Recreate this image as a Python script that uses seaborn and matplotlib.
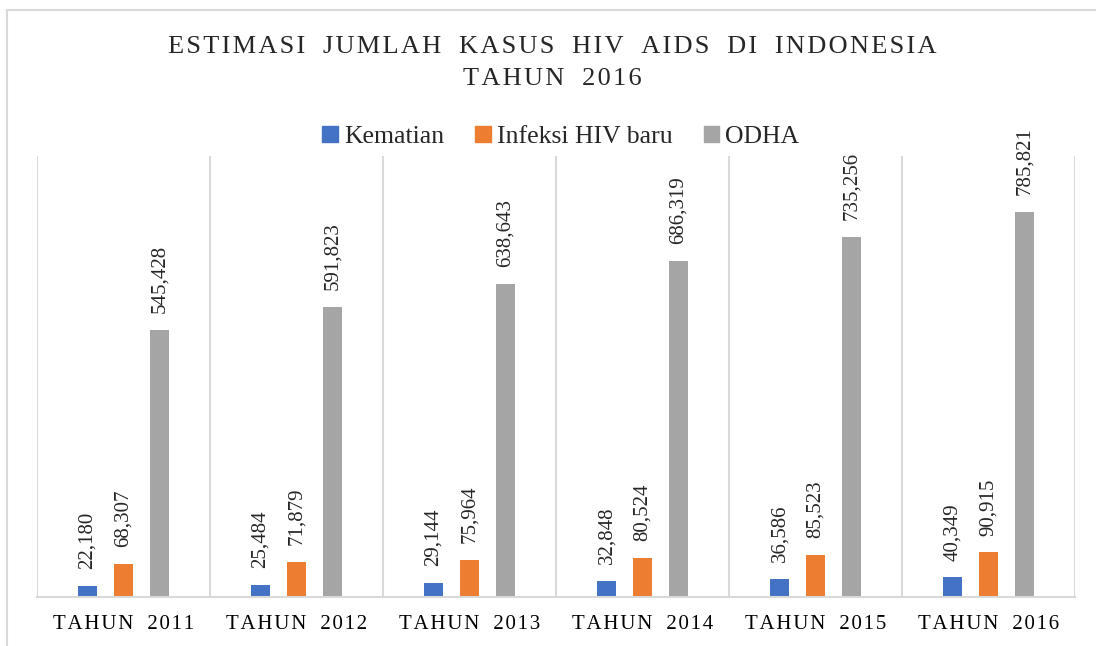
import numpy as np
import pandas as pd
import matplotlib
matplotlib.use("Agg")
import matplotlib.pyplot as plt
from matplotlib.lines import Line2D
import seaborn as sns

# ── data ────────────────────────────────────────────────
years      = ["2011", "2012", "2013", "2014", "2015", "2016"]
kematian   = [22180, 25484, 29144, 32848, 36586, 40349]
infeksi    = [68307, 71879, 75964, 80524, 85523, 90915]
odha       = [545428, 591823, 638643, 686319, 735256, 785821]
series     = ["Kematian", "Infeksi HIV baru", "ODHA"]
colors     = ["#4472C4", "#ED7D31", "#A5A5A5"]
title_txt  = ["ESTIMASI JUMLAH KASUS HIV AIDS DI INDONESIA", "TAHUN 2016"]

df = pd.DataFrame({
    "Tahun": years * 3,
    "Seri": np.repeat(series, len(years)),
    "Nilai": kematian + infeksi + odha,
})

SERIF = ["Liberation Serif", "DejaVu Serif"]
HS = "\u200a"


def spaced(s, n=1):
    # fake letter spacing with hair spaces
    return (HS * n).join(s).replace(" ", "  ")


sns.set_theme(style="white")
plt.rcParams["font.family"] = SERIF

fig = plt.figure(figsize=(10.96, 6.46), dpi=100)
ax = fig.add_axes([37 / 1096, 49 / 646, 1038 / 1096, 441 / 646])

sns.barplot(data=df, x="Tahun", y="Nilai", hue="Seri", hue_order=series,
            palette=colors, width=0.624, gap=0.47, saturation=1,
            edgecolor="none", ax=ax, legend=True)

for cont in ax.containers:
    ax.bar_label(cont, labels=[f"{v:,.0f}" for v in cont.datavalues],
                 rotation=90, padding=12, fontsize=15, clip_on=False)

ax.set_xlim(-0.5, 5.5)
ax.set_ylim(0, 900000)
ax.set_yticks([])
ax.set_xlabel("")
ax.set_ylabel("")
for x in np.arange(-0.5, 6.0, 1.0):
    ax.axvline(x, color="#D9D9D9", lw=1.5, zorder=0)
ax.set_xticks(range(len(years)))
ax.set_xticklabels([spaced("TAHUN " + y, 1) for y in years], fontsize=15)
ax.tick_params(axis="x", length=0, pad=13, colors="#000000")
for s in ["left", "top", "right"]:
    ax.spines[s].set_visible(False)
ax.spines["bottom"].set_color("#D9D9D9")
ax.spines["bottom"].set_linewidth(1.5)

ax.legend_.remove()
handles = [plt.Rectangle((0, 0), 1, 1, color=c) for c in colors]
fig.legend(handles, series, loc="center", bbox_to_anchor=(561 / 1096, 1 - 137 / 646),
           ncol=3, frameon=False, fontsize=18.5, handlelength=0.6, handleheight=0.6,
           handletextpad=0.25, columnspacing=1.2)

fig.text(552 / 1096, 1 - 47 / 646, spaced(title_txt[0], 1), ha="center", va="center",
         fontsize=19)
fig.text(552 / 1096, 1 - 79 / 646, spaced(title_txt[1], 1), ha="center", va="center",
         fontsize=19)

# chart area border
fig.add_artist(Line2D([7 / 1096, 7 / 1096], [0, 1 - 10 / 646], transform=fig.transFigure,
                      color="#D9D9D9", lw=1.5))
fig.add_artist(Line2D([7 / 1096, 1], [1 - 10 / 646, 1 - 10 / 646], transform=fig.transFigure,
                      color="#D9D9D9", lw=1.5))

fig.savefig("out.png", dpi=100)
